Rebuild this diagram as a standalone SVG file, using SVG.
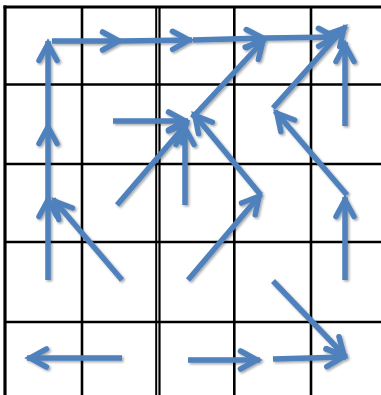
<svg xmlns="http://www.w3.org/2000/svg" width="381" height="395" viewBox="0 0 381 395">
<style>
.g{stroke:#000;stroke-width:2.6;fill:none}
.b{stroke:#000;stroke-width:3.2;fill:none}
.a{stroke:#4F81BD;stroke-width:5.5;fill:none;stroke-linecap:butt;marker-end:url(#head)}
</style>
<defs>
<marker id="head" markerUnits="userSpaceOnUse" viewBox="-24 -14 32 28" refX="3" refY="0" markerWidth="32" markerHeight="28" orient="auto" overflow="visible">
<path d="M-16.5,-9 L0,0 L-16.5,9" fill="none" stroke="#4F81BD" stroke-width="5.5" stroke-linejoin="miter" stroke-miterlimit="10" stroke-linecap="round"/>
</marker>
<filter id="sh" x="-10%" y="-10%" width="120%" height="120%">
<feDropShadow dx="1.5" dy="1.5" stdDeviation="1.2" flood-color="#000" flood-opacity="0.35"/>
</filter>
</defs>
<rect width="381" height="395" fill="#fff"/>
<g id="grid">
<line class="b" x1="3.5" y1="7" x2="381" y2="7"/>
<line class="b" x1="5" y1="5.5" x2="5" y2="395"/>
<line class="g" x1="5" y1="84.5" x2="381" y2="84.5"/>
<line class="g" x1="5" y1="164" x2="381" y2="164"/>
<line class="g" x1="5" y1="242" x2="381" y2="242"/>
<line class="g" x1="5" y1="322" x2="381" y2="322"/>
<line class="g" x1="82" y1="7" x2="82" y2="395"/>
<line stroke="#000" stroke-width="2" x1="156.2" y1="7" x2="156.2" y2="395"/>
<line stroke="#000" stroke-width="2.2" x1="159.5" y1="7" x2="159.5" y2="395"/>
<line class="g" x1="234.3" y1="7" x2="234.3" y2="395"/>
<line class="g" x1="311" y1="7" x2="311" y2="395"/>
</g>
<g id="connectors" filter="url(#sh)">
<line class="a" x1="48" y1="280" x2="48" y2="197"/>
<line class="a" x1="48" y1="197" x2="48" y2="124"/>
<line class="a" x1="48" y1="124" x2="48" y2="41"/>
<line class="a" x1="52" y1="41" x2="122" y2="41"/>
<line class="a" x1="122" y1="41" x2="192" y2="40"/>
<line class="a" x1="193" y1="40" x2="266" y2="38"/>
<line class="a" x1="266" y1="38" x2="338" y2="37"/>
<line class="a" x1="122" y1="280" x2="53" y2="199"/>
<line class="a" x1="113" y1="121" x2="188" y2="121"/>
<line class="a" x1="117" y1="205" x2="188" y2="122"/>
<line class="a" x1="185" y1="205" x2="185" y2="125"/>
<line class="a" x1="260" y1="194" x2="193" y2="113"/>
<line class="a" x1="192" y1="118" x2="265" y2="39"/>
<line class="a" x1="188" y1="280" x2="261" y2="194"/>
<line class="a" x1="347" y1="195" x2="275" y2="111"/>
<line class="a" x1="273" y1="108" x2="346" y2="26"/>
<line class="a" x1="345" y1="126" x2="345" y2="42"/>
<line class="a" x1="345" y1="280" x2="345" y2="197"/>
<line class="a" x1="273" y1="281" x2="346" y2="357"/>
<line class="a" x1="122" y1="358" x2="27" y2="358"/>
<line class="a" x1="188" y1="360" x2="260" y2="360"/>
<line class="a" x1="273" y1="359" x2="346" y2="357"/>
</g>
</svg>
